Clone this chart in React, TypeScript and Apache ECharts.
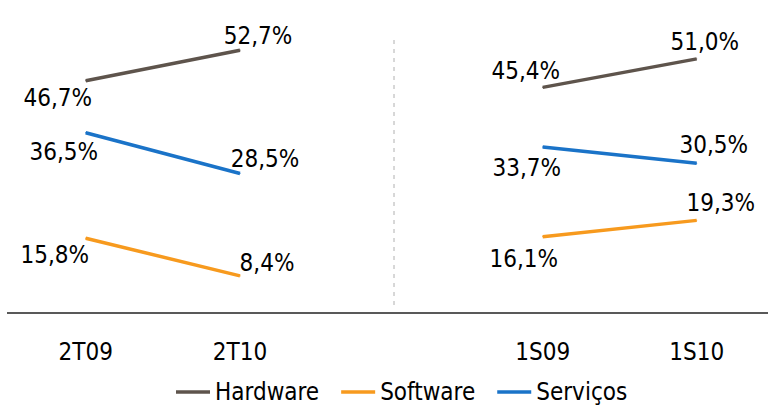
import React, { useEffect, useRef } from "react";
import * as echarts from "echarts";

const leftCategories = ["2T09", "2T10"];
const rightCategories = ["1S09", "1S10"];
const seriesNames = ["Hardware", "Software", "Serviços"];
const hardwareLeft = [46.7, 52.7];
const softwareLeft = [15.8, 8.4];
const servicosLeft = [36.5, 28.5];
const hardwareRight = [45.4, 51.0];
const softwareRight = [16.1, 19.3];
const servicosRight = [33.7, 30.5];

const colors: Record<string, string> = {
  Hardware: "#5e544c",
  Software: "#f79a1e",
  "Serviços": "#1a73c8",
};

// label offsets (style only)
const leftOffsets: Record<string, number[][]> = {
  Hardware: [[-28, 17], [18, -14]],
  Software: [[-31, 17], [27, -13]],
  "Serviços": [[-22, 19], [25, -14]],
};
const rightOffsets: Record<string, number[][]> = {
  Hardware: [[-17, -16], [8, -17]],
  Software: [[-19, 22], [24, -17]],
  "Serviços": [[-16, 21], [17, -18]],
};

const FONT = "'DejaVu Sans Condensed', 'Liberation Sans', sans-serif";

function fmt(v: number) {
  return v.toFixed(1).replace(".", ",") + "%";
}

export default function App() {
  const ref = useRef<HTMLDivElement>(null);
  useEffect(() => {
    if (!ref.current) return;
    const chart = echarts.init(ref.current, null, { renderer: "svg" });
    const leftVals: Record<string, number[]> = {
      Hardware: hardwareLeft,
      Software: softwareLeft,
      "Serviços": servicosLeft,
    };
    const rightVals: Record<string, number[]> = {
      Hardware: hardwareRight,
      Software: softwareRight,
      "Serviços": servicosRight,
    };
    const mk = (name: string, vals: number[], offs: number[][], idx: number) => ({
      type: "line",
      name,
      xAxisIndex: idx,
      yAxisIndex: idx,
      symbol: "circle",
      symbolSize: 1,
      showSymbol: true,
      lineStyle: { color: colors[name], width: 3.5 },
      itemStyle: { color: colors[name] },
      data: vals.map((v, i) => ({
        value: v,
        label: {
          show: true,
          position: "inside",
          offset: offs[i],
          align: "center",
          verticalAlign: "middle",
          formatter: () => fmt(v),
          fontSize: 24,
          fontFamily: FONT,
          color: "#000",
        },
      })),
    });
    const series: any[] = [];
    seriesNames.forEach((n) => series.push(mk(n, leftVals[n], leftOffsets[n], 0)));
    seriesNames.forEach((n) => series.push(mk(n, rightVals[n], rightOffsets[n], 1)));

    const xAxisBase = {
      type: "category",
      boundaryGap: false,
      axisLine: { show: false },
      axisTick: { show: false },
      splitLine: { show: false },
      axisLabel: {
        fontSize: 24,
        fontFamily: FONT,
        color: "#000",
        margin: 21,
        lineHeight: 24,
      },
    };
    const yAxisBase = {
      type: "value",
      min: 0,
      max: 60,
      show: false,
      splitLine: { show: false },
    };
    chart.setOption({
      animation: false,
      grid: [
        { left: 85.7, top: 13, width: 154.3, height: 305.7 },
        { left: 542.7, top: 13, width: 154, height: 305.7 },
      ],
      xAxis: [
        { ...xAxisBase, gridIndex: 0, data: leftCategories },
        { ...xAxisBase, gridIndex: 1, data: rightCategories },
      ],
      yAxis: [
        { ...yAxisBase, gridIndex: 0 },
        { ...yAxisBase, gridIndex: 1 },
      ],
      legend: {
        data: seriesNames.map((n) => ({ name: n, itemStyle: { color: colors[n] } })),
        left: 176,
        top: 378,
        padding: 0,
        icon: "rect",
        itemWidth: 34,
        itemHeight: 3.5,
        itemGap: 22,
        textStyle: { fontSize: 24, fontFamily: FONT, color: "#000", lineHeight: 28 },
      },
      graphic: [
        {
          type: "line",
          shape: { x1: 7, y1: 313, x2: 768, y2: 313 },
          style: { stroke: "#222", lineWidth: 1.5 },
        },
        {
          type: "line",
          shape: { x1: 394, y1: 40, x2: 394, y2: 310 },
          style: { stroke: "#b0b0b0", lineWidth: 1, lineDash: [4, 5] },
        },
      ],
      series,
    });
    return () => chart.dispose();
  }, []);
  return <div ref={ref} style={{ width: 768, height: 409, position: "absolute", left: 0, top: 0 }} />;
}
